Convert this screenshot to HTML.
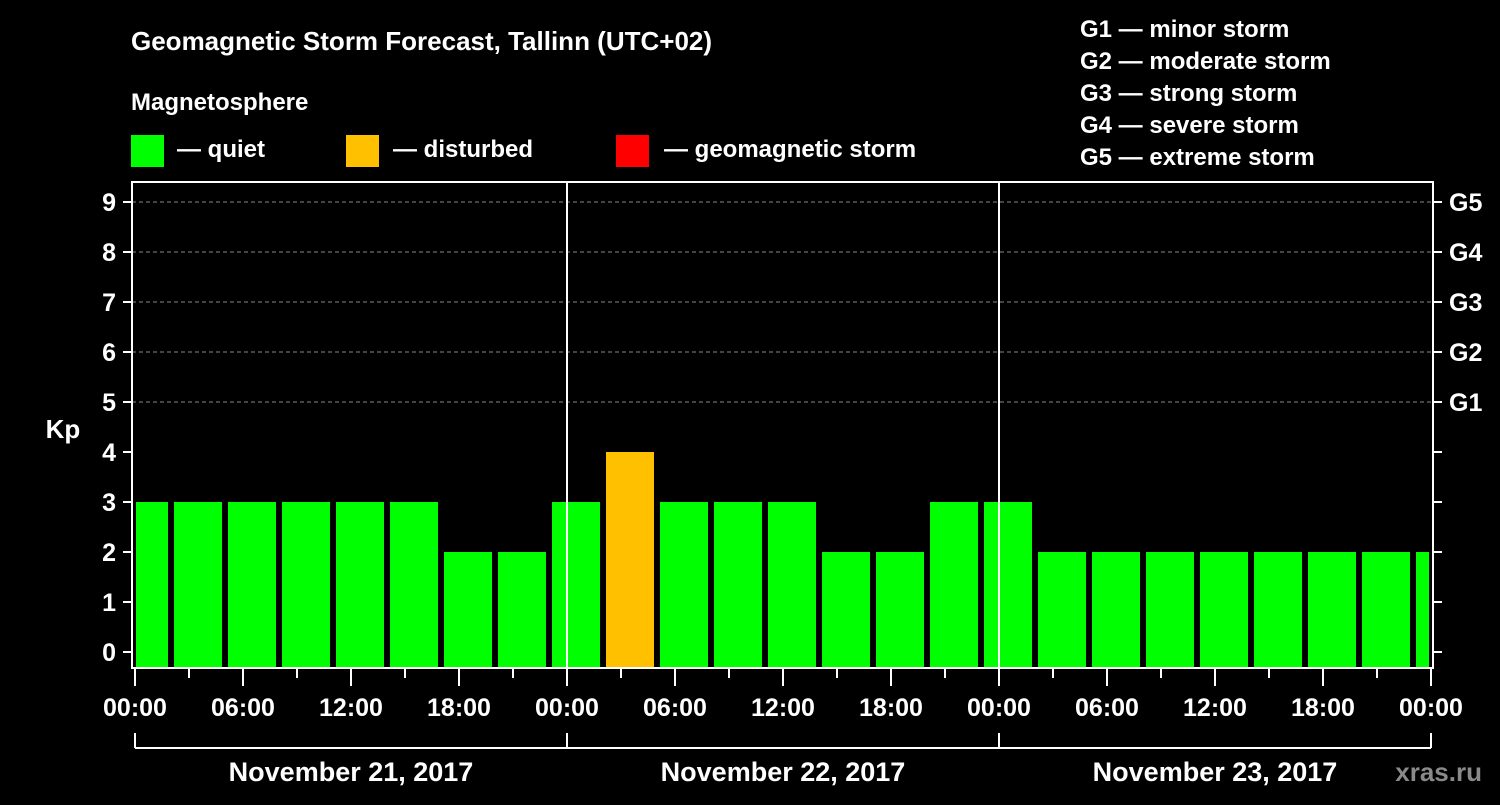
<!DOCTYPE html>
<html><head><meta charset="utf-8"><style>
html,body{margin:0;padding:0;background:#000;}
svg text{font-family:"Liberation Sans",Arial,sans-serif;font-weight:bold;fill:#fff;}
</style></head><body>
<svg id="chart" width="1500" height="800" viewBox="0 0 1500 800" xmlns="http://www.w3.org/2000/svg">
<rect width="1500" height="800" fill="#000"/>
<text x="131" y="50" font-size="26">Geomagnetic Storm Forecast, Tallinn (UTC+02)</text>
<text x="131" y="110" font-size="24">Magnetosphere</text>
<g><rect x="131" y="135" width="33" height="32" fill="#00ff00"/><text x="177" y="157" font-size="24">— quiet</text></g>
<g><rect x="346" y="135" width="33" height="32" fill="#ffc000"/><text x="393" y="157" font-size="24">— disturbed</text></g>
<g><rect x="616" y="135" width="33" height="32" fill="#ff0000"/><text x="664" y="157" font-size="24">— geomagnetic storm</text></g>
<g font-size="24">
<text x="1080" y="37" font-size="24">G1 — minor storm</text>
<text x="1080" y="69" font-size="24">G2 — moderate storm</text>
<text x="1080" y="101" font-size="24">G3 — strong storm</text>
<text x="1080" y="133" font-size="24">G4 — severe storm</text>
<text x="1080" y="165" font-size="24">G5 — extreme storm</text>
</g>
<text x="63" y="438" font-size="26" text-anchor="middle">Kp</text>
<text x="1482" y="781" font-size="26" text-anchor="end" fill="#888" style="fill:#8a8a8a">xras.ru</text>
<g id="grid"></g><g id="bars"></g><g id="axes"></g>
</svg>
<script>
const kpValues=[3,3,3,3,3,3,2,2, 3,4,3,3,3,2,2,3,3, 2,2,2,2,2,2,2,2];
const yTicks=[0,1,2,3,4,5,6,7,8,9];
const gLabels=["G1","G2","G3","G4","G5"];
const gLevels=[5,6,7,8,9];
const xLabels=["00:00","06:00","12:00","18:00","00:00","06:00","12:00","18:00","00:00","06:00","12:00","18:00","00:00"];
const dayLabels=["November 21, 2017","November 22, 2017","November 23, 2017"];
const firstBarStartHour=-1; // bars cover 3h intervals starting 23:00 local
const NS="http://www.w3.org/2000/svg";
const L=132,R=1433,T=182,B=668,X0=135,PXH=18;
const yS=v=>652-50*v, xS=h=>X0+h*PXH;
function mk(tag,attrs,parent){const e=document.createElementNS(NS,tag);for(const k in attrs)e.setAttribute(k,attrs[k]);parent.appendChild(e);return e;}
const grid=document.getElementById('grid'),bars=document.getElementById('bars'),axes=document.getElementById('axes');
gLevels.forEach(v=>{const l=mk('line',{x1:L,x2:R,y1:yS(v),y2:yS(v),stroke:'#888','stroke-dasharray':'4,3','stroke-width':1},grid);

});
kpValues.forEach((v,i)=>{let x1=xS(firstBarStartHour+3*i)+3,x2=xS(firstBarStartHour+3*i+3)-3;
x1=Math.max(x1,L+4);x2=Math.min(x2,R-4);
const c=v>=5?'#ff0000':(v>=4?'#ffc000':'#00ff00');
const r=mk('rect',{x:x1,y:yS(v),width:x2-x1,height:B-1-yS(v),fill:c},bars);

});
[2,3].forEach(d=>{const l=mk('line',{x1:xS(24*(d-1)),x2:xS(24*(d-1)),y1:T,y2:B,stroke:'#fff','stroke-width':2},axes);

});
const fr=mk('rect',{x:L,y:T,width:R-L,height:B-T,fill:'none',stroke:'#fff','stroke-width':2},axes);


yTicks.forEach(v=>{mk('line',{x1:L-9,x2:L,y1:yS(v),y2:yS(v),stroke:'#fff','stroke-width':2},axes);
mk('line',{x1:R,x2:R+9,y1:yS(v),y2:yS(v),stroke:'#fff','stroke-width':2},axes);
const t=mk('text',{x:116,y:yS(v)+9,'font-size':25,'text-anchor':'end'},axes);t.textContent=v;

});
gLabels.forEach((g,i)=>{const t=mk('text',{x:1449,y:yS(gLevels[i])+9,'font-size':25},axes);t.textContent=g;

});
for(let h=0;h<=72;h+=3){const long=h%6===0;mk('line',{x1:xS(h),x2:xS(h),y1:B,y2:B+(long?18:10),stroke:'#fff','stroke-width':2},axes);}
xLabels.forEach((s,i)=>{const t=mk('text',{x:xS(6*i),y:716,'font-size':25,'text-anchor':'middle'},axes);t.textContent=s;

});
mk('line',{x1:xS(0),x2:xS(72),y1:748,y2:748,stroke:'#fff','stroke-width':2},axes);
for(let d=0;d<=3;d++)mk('line',{x1:xS(24*d),x2:xS(24*d),y1:733,y2:748,stroke:'#fff','stroke-width':2},axes);
dayLabels.forEach((s,i)=>{const t=mk('text',{x:xS(24*i+12),y:781,'font-size':27,'text-anchor':'middle'},axes);t.textContent=s;

});
</script>
</body></html>
